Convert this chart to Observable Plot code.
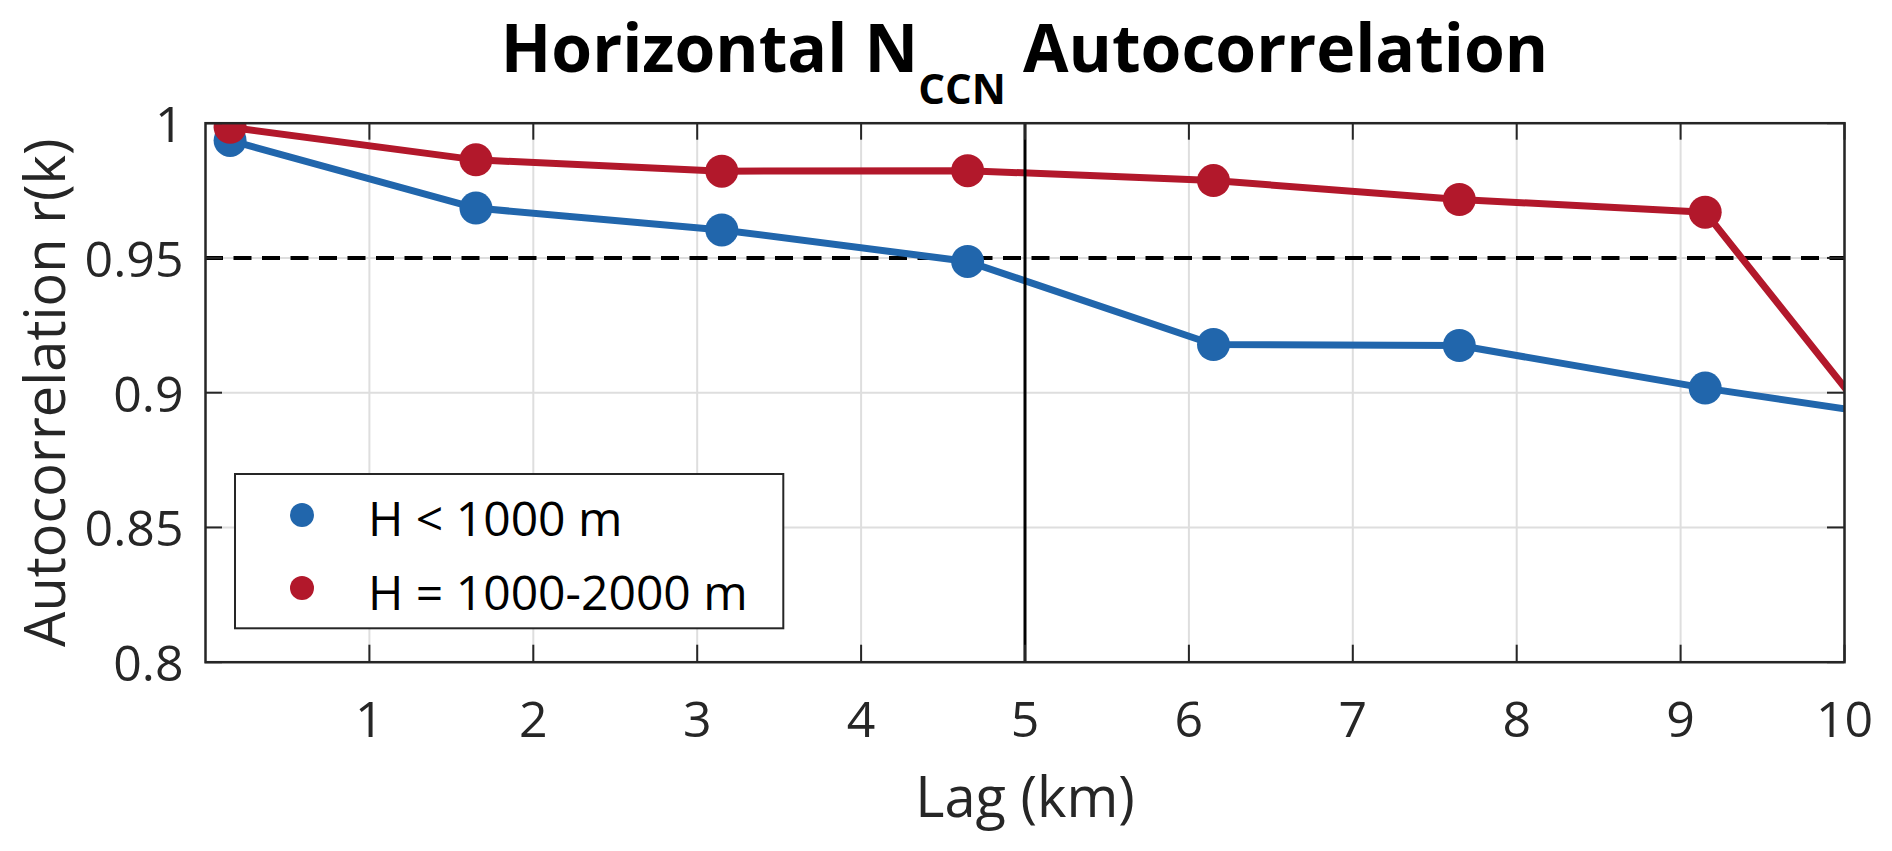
<!DOCTYPE html>
<html>
<head>
<meta charset="utf-8">
<script src="https://cdn.jsdelivr.net/npm/d3@7"></script>
<script src="https://cdn.jsdelivr.net/npm/@observablehq/plot@0.6"></script>
<style>
  html, body { margin: 0; padding: 0; background: #fff; }
  #chart { width: 1892px; height: 851px; }
</style>
</head>
<body>
<div id="chart"></div>
<script>
// ---- data ----
const lags = [0.15, 1.65, 3.15, 4.65, 6.15, 7.65, 9.15, 10.65];
const lowLayerR = [0.9936, 0.9685, 0.9604, 0.9487, 0.9179, 0.9175, 0.9017, 0.8881];
const midLayerR = [0.9985, 0.9864, 0.9822, 0.9824, 0.9787, 0.9717, 0.9670, 0.8523];
const seriesNames = ["H < 1000 m", "H = 1000-2000 m"];
const seriesColors = ["#2166ac", "#b2182b"];
const xTicks = [1, 2, 3, 4, 5, 6, 7, 8, 9, 10];
const yTicks = [0.8, 0.85, 0.9, 0.95, 1];
const yTickLabels = ["0.8", "0.85", "0.9", "0.95", "1"];
const threshold = 0.95;
const cutoffLag = 5;
const titleMain = "Horizontal N";
const titleSub = "CCN";
const titleRest = " Autocorrelation";
const xLabel = "Lag (km)";
const yLabel = "Autocorrelation r(k)";

const table = [];
[lowLayerR, midLayerR].forEach((vals, i) => {
  vals.forEach((v, j) => table.push({series: seriesNames[i], lag: lags[j], r: v}));
});

// ---- layout ----
const W = 1892, H = 851;
const mT = 122.7, mB = 851 - 661.7, mL = 205, mR = 1892 - 1844;
const plotW = W - mL - mR, plotH = H - mT - mB;
const tickLen = 17;
const axisColor = "#262626";
const gridColor = "#dedede";
const font = "'Open Sans', 'Noto Sans', sans-serif";

const chart = Plot.plot({
  width: W, height: H,
  marginTop: mT, marginBottom: mB, marginLeft: mL, marginRight: mR,
  x: {domain: [0, 10], axis: null},
  y: {domain: [0.8, 1], axis: null},
  color: {domain: seriesNames, range: seriesColors},
  style: {fontFamily: font, background: "#fff", color: axisColor, overflow: "visible"},
  marks: [
    // grid
    Plot.ruleX(xTicks, {x: d => d, stroke: gridColor, strokeWidth: 2}),
    Plot.ruleY(yTicks, {y: d => d, stroke: gridColor, strokeWidth: 2}),
    // threshold
    Plot.ruleY([threshold], {y: d => d, stroke: "#000", strokeWidth: 4, strokeDasharray: "18,10.5"}),
    // series
    ...seriesNames.flatMap(name => [
      Plot.line(table.filter(d => d.series === name), {x: "lag", y: "r", stroke: "series", strokeWidth: 7, clip: true}),
      Plot.dot(table.filter(d => d.series === name), {x: "lag", y: "r", fill: "series", r: 16.5, clip: true})
    ]),
    // cutoff
    Plot.ruleX([cutoffLag], {x: d => d, stroke: "#000", strokeWidth: 3}),
    // frame
    Plot.frame({stroke: axisColor, strokeWidth: 2.5}),
    // inward ticks
    Plot.ruleX(xTicks, {x: d => d, y1: 1, y2: 0.8, insetTop: plotH - tickLen, stroke: axisColor, strokeWidth: 2}),
    Plot.ruleX(xTicks, {x: d => d, y1: 1, y2: 0.8, insetBottom: plotH - tickLen, stroke: axisColor, strokeWidth: 2}),
    Plot.ruleY(yTicks, {y: d => d, x1: 0, x2: 10, insetRight: plotW - tickLen, stroke: axisColor, strokeWidth: 2}),
    Plot.ruleY(yTicks, {y: d => d, x1: 0, x2: 10, insetLeft: plotW - tickLen, stroke: axisColor, strokeWidth: 2}),
    // tick labels
    Plot.text(xTicks, {x: d => d, text: d => String(d), frameAnchor: "bottom", lineAnchor: "bottom", dy: 75, fontSize: 50, fill: axisColor}),
    Plot.text(yTicks, {y: d => d, text: (d, i) => yTickLabels[i], frameAnchor: "left", textAnchor: "end", lineAnchor: "middle", dx: -22, dy: 3, fontSize: 50, fill: axisColor}),
    // axis labels
    Plot.text([xLabel], {text: d => d, frameAnchor: "bottom", lineAnchor: "bottom", dy: 155, fontSize: 56, fill: axisColor}),
    Plot.text([yLabel], {text: d => d, frameAnchor: "left", textAnchor: "middle", lineAnchor: "bottom", rotate: -90, dx: 64.7 - mL, fontSize: 56, fill: axisColor})
  ]
});

const svg = d3.select(chart.tagName.toLowerCase() === "svg" ? chart : chart.querySelector("svg"));

// title with subscript
const t = svg.append("text")
  .attr("x", mL + plotW / 2)
  .attr("y", 72)
  .attr("text-anchor", "middle")
  .attr("font-family", font)
  .attr("font-weight", "bold")
  .attr("font-size", 66)
  .attr("fill", "#000");
t.append("tspan").text(titleMain);
t.append("tspan").attr("font-size", 42).attr("dy", 32).text(titleSub);
t.append("tspan").attr("dy", -32).text(titleRest);

// legend
const lg = svg.append("g");
lg.append("rect")
  .attr("x", 235).attr("y", 474).attr("width", 783.3 - 235).attr("height", 628.3 - 474)
  .attr("fill", "#fff").attr("stroke", axisColor).attr("stroke-width", 2);
seriesNames.forEach((name, i) => {
  const cy = [515, 588][i];
  lg.append("circle").attr("cx", 302).attr("cy", cy).attr("r", 12).attr("fill", seriesColors[i]);
  lg.append("text").attr("x", 368).attr("y", [536, 610][i])
    .attr("text-anchor", "start")
    .attr("font-family", font).attr("font-size", 48).attr("fill", "#000").text(name);
});

document.getElementById("chart").appendChild(chart);
</script>
</body>
</html>
